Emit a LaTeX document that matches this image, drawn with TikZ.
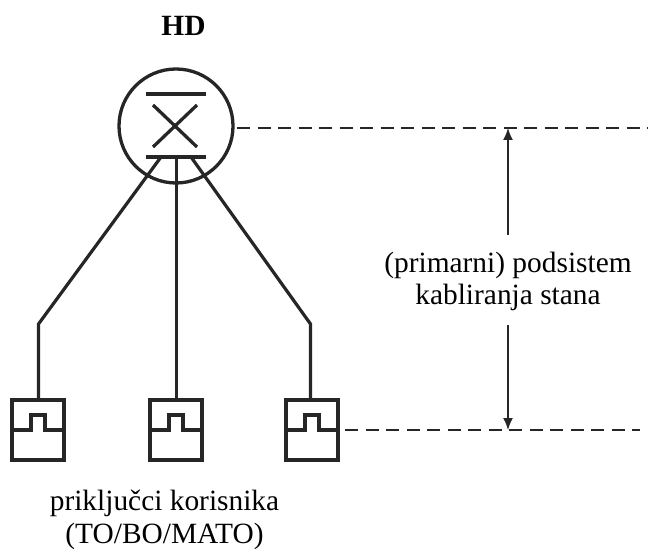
\documentclass[tikz,border=0pt]{standalone}
\usepackage{fontspec}
\setmainfont{Liberation Serif}
\usetikzlibrary{arrows.meta}
\tikzset{
  wire/.style={line width=3.2bp,black!85},
  sym/.style={line width=3.3bp,black!85},
  dashline/.style={line width=2.8bp,black!85,dash pattern=on 13bp off 7.5bp},
  dim/.style={line width=1.6bp,black!85,-{Latex[length=12bp,width=10bp]}},
  lbl/.style={font=\fontsize{29.5}{32}\selectfont,align=center,inner sep=0pt,text=black},
  outlet/.pic={
    \draw[sym] (-26,-30) rectangle (26,30);
    \draw[sym] (-26,0) -- (-7,0) -- (-7,-15) -- (7,-15) -- (7,0) -- (26,0);
  }
}
\begin{document}
\begin{tikzpicture}[x=1bp,y=-1bp]
\useasboundingbox (0,0) rectangle (648,550);
\node[lbl,font=\fontsize{29.5}{32}\selectfont\bfseries] (hd) at (183.5,26) {HD};
\node[circle,draw,sym,black!85,minimum size=114bp,inner sep=0pt] (c) at (176,126) {};
\coordinate (t1) at (146,94); \coordinate (t2) at (206,94);
\coordinate (b1) at (146,157); \coordinate (b2) at (206,157);
\coordinate (x1) at (153,105); \coordinate (x2) at (197,147);
\coordinate (x3) at (197,105); \coordinate (x4) at (153,147);
\draw[sym] (t1) -- (t2);
\draw[sym] (b1) -- (b2);
\draw[sym] (x1) -- (x2);
\draw[sym] (x3) -- (x4);
\coordinate (s1) at (161,157); \coordinate (s2) at (176.5,157); \coordinate (s3) at (191,157);
\coordinate (k1) at (38.5,324); \coordinate (k3) at (310.5,324);
\coordinate (o1) at (38.5,400); \coordinate (o2) at (176.5,400); \coordinate (o3) at (310.5,400);
\draw[wire] (s1) -- (k1) -- (o1);
\draw[wire] (s2) -- (o2);
\draw[wire] (s3) -- (k3) -- (o3);
\pic at (38,430) {outlet};
\pic at (176,430) {outlet};
\pic at (312,430) {outlet};
\coordinate (d1) at (237,128); \coordinate (d2) at (648,128);
\coordinate (d3) at (345,430); \coordinate (d4) at (640,430);
\draw[dashline] (d1) -- (d2);
\draw[dashline] (d3) -- (d4);
\node[lbl] (mid) at (508,281) {(primarni) podsistem\\kabliranja stana};
\coordinate (a1) at (508,128); \coordinate (a2) at (508,430);
\coordinate (m1) at (508,235); \coordinate (m2) at (508,325);
\draw[dim] (m1) -- (a1);
\draw[dim] (m2) -- (a2);
\node[lbl] (users) at (164.5,520) {priključci korisnika\\[1pt](TO/BO/MATO)};
\end{tikzpicture}
\end{document}
